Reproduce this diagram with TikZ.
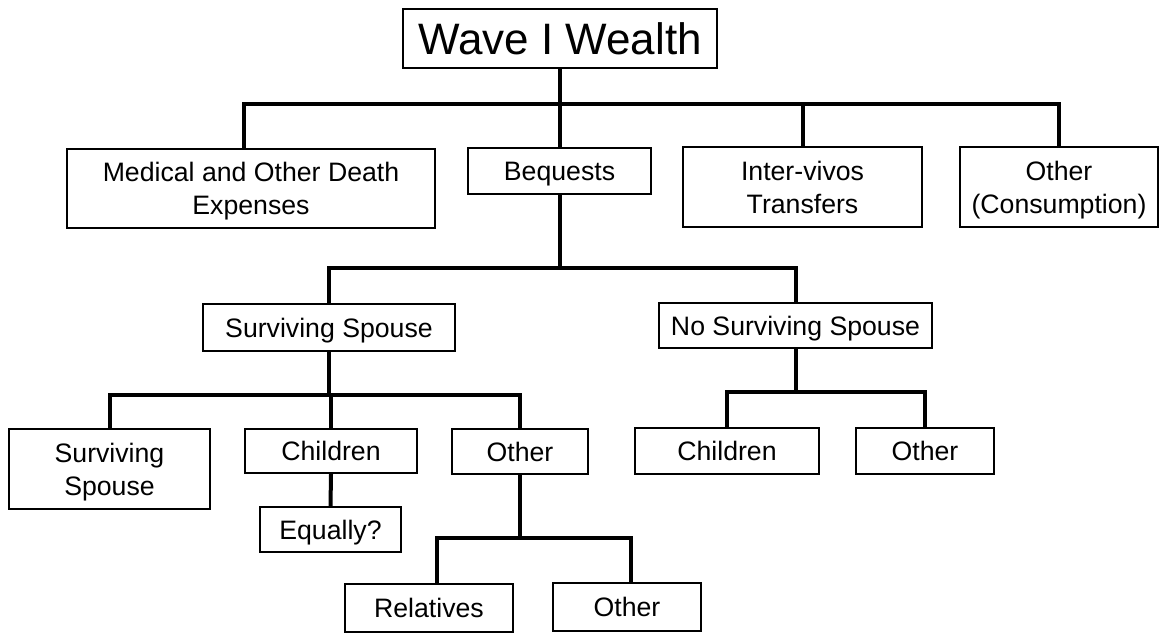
\documentclass[tikz,border=0pt]{standalone}
\usepackage{fontspec}
\setmainfont{Liberation Sans}
\tikzset{every picture/.style={line width=0.75pt}}
\tikzset{
  box/.style={draw, line width=1.5pt, align=center, inner sep=0pt, text depth=0pt,
    font=\fontsize{20}{25}\selectfont},
  boxsize/.style 2 args={minimum width=#1*0.75pt, minimum height=#2*0.75pt},
  link/.style={line width=3pt, line join=miter}
}

\begin{document}
\begin{tikzpicture}[x=0.75pt,y=0.75pt,yscale=-1,xscale=1]
\useasboundingbox (0,0) rectangle (1160,633);

% Top box
\node [box, boxsize={314}{59}, font=\fontsize{33}{36}\selectfont] (wave) at (560,38.5) {Wave I Wealth};

% First level
\node [box, boxsize={368}{79}] (medical) at (251,188.5) {Medical and Other Death\\Expenses};
\node [box, boxsize={183}{46}] (bequests) at (559.5,171) {Bequests};
\node [box, boxsize={239}{80}] (intervivos) at (802.5,187) {Inter-vivos\\Transfers};
\node [box, boxsize={198}{80}] (consumption) at (1059,187) {Other\\(Consumption)};

% Second level
\node [box, boxsize={252}{47}] (spouse) at (329,327.5) {Surviving Spouse};
\node [box, boxsize={273}{45}] (nospouse) at (795.5,325.5) {No Surviving Spouse};

% Third level
\node [box, boxsize={201}{80}] (sspouse) at (109.5,469) {Surviving\\Spouse};
\node [box, boxsize={172}{44}] (children) at (331,451) {Children};
\node [box, boxsize={136}{45}] (other) at (520,451.5) {Other};
\node [box, boxsize={184}{46}] (nchildren) at (727,451) {Children};
\node [box, boxsize={138}{46}] (nother) at (925,451) {Other};

% Fourth level
\node [box, boxsize={141}{45}] (equally) at (330.5,529.5) {Equally?};
\node [box, boxsize={168}{48}] (relatives) at (429,608) {Relatives};
\node [box, boxsize={148}{48}] (otherrel) at (627,607) {Other};

% Connectors
\draw [link] (wave.south) -- (wave.south |- 0,104) -| ([xshift=-5.25pt]medical.north);
\foreach \child in {bequests,intervivos,consumption}
  \draw [link] (wave.south) -- (wave.south |- 0,104) -| (\child.north);
\foreach \child in {spouse,nospouse}
  \draw [link] (bequests.south) -- (bequests.south |- 0,268) -| (\child.north);
\foreach \child in {sspouse,children,other}
  \draw [link] (spouse.south) -- (spouse.south |- 0,395) -| (\child.north);
\foreach \child in {nchildren,nother}
  \draw [link] (nospouse.south) -- (nospouse.south |- 0,392) -| (\child.north);
\draw [link] (other.south) -- (other.south |- 0,538) -| ([xshift=6pt]relatives.north);
\draw [link] (other.south) -- (other.south |- 0,538) -| ([xshift=3pt]otherrel.north);
\draw [link] (children.south) -- (equally.north);

\end{tikzpicture}
\end{document}
